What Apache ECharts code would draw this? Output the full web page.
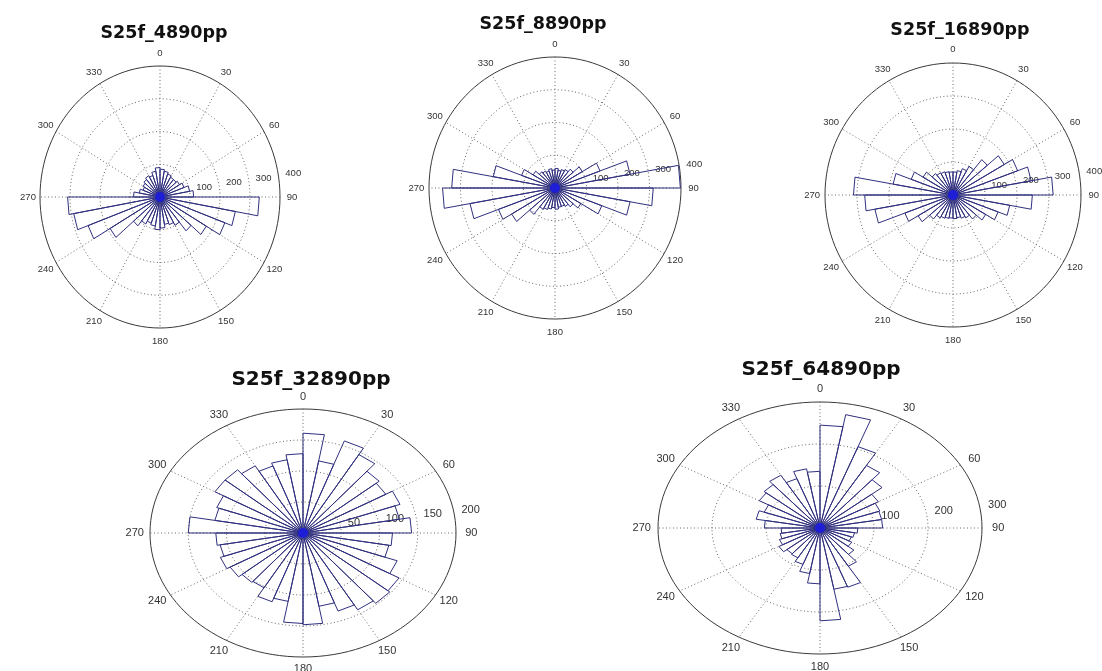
<!DOCTYPE html>
<html><head><meta charset="utf-8">
<script src="https://cdn.jsdelivr.net/npm/echarts@6/dist/echarts.min.js"></script>
<style>html,body{margin:0;padding:0;background:#fff}#c{width:1102px;height:671px}</style>
</head><body><div id="c"></div>
<script>
// ---- data ----
const titles = ['S25f_4890pp', 'S25f_8890pp', 'S25f_16890pp', 'S25f_32890pp', 'S25f_64890pp'];
const angleTicks = [0, 30, 60, 90, 120, 150, 180, 210, 240, 270, 300, 330];
const spokeAngles = [0, 30, 60, 90, 120, 150];
const binWidth = 10; // degrees, 36 bins, compass bins [10i, 10i+10]
const rTicks400 = [100, 200, 300, 400];
const rTicks200 = [50, 100, 150, 200];
const rTicks300 = [100, 200, 300];
const counts4890 = [85, 80, 75, 70, 70, 75, 85, 100, 112, 331, 255, 230, 178, 135, 100, 90, 85, 95,
  100, 90, 85, 95, 115, 192, 255, 292, 308, 88, 70, 60, 65, 70, 75, 70, 80, 90];
const counts8890 = [60, 55, 60, 65, 75, 100, 152, 242, 398, 312, 242, 158, 95, 75, 65, 60, 60, 65,
  60, 65, 70, 75, 105, 159, 191, 274, 357, 328, 199, 113, 80, 65, 60, 55, 60, 55];
const counts16890 = [70, 75, 85, 100, 140, 185, 215, 248, 313, 248, 180, 150, 118, 95, 80, 75, 70, 72,
  70, 72, 75, 80, 95, 126, 160, 248, 276, 311, 190, 139, 108, 85, 78, 75, 72, 70];
const counts32890 = [161, 118, 158, 146, 130, 125, 135, 128, 142, 117, 114, 131, 145, 148, 143, 134, 120, 148,
  146, 112, 118, 102, 104, 110, 115, 110, 114, 150, 117, 120, 133, 133, 125, 115, 120, 128];
const counts64890 = [245, 274, 206, 172, 150, 125, 118, 116, 116, 70, 65, 62, 68, 82, 105, 150, 148, 221,
  133, 110, 92, 82, 80, 88, 80, 75, 72, 103, 120, 110, 130, 135, 145, 125, 143, 135];

// ---- layout (pixels) ----
const panels = [
  { title: titles[0], counts: counts4890, rTicks: rTicks400, cx: 160, cy: 197, rx: 120, ry: 131, tx: 164, ty: 33, tf: 17.5, lf: 9.5 },
  { title: titles[1], counts: counts8890, rTicks: rTicks400, cx: 555, cy: 188, rx: 126, ry: 131, tx: 543, ty: 24, tf: 17.5, lf: 9.5 },
  { title: titles[2], counts: counts16890, rTicks: rTicks400, cx: 953, cy: 195, rx: 128, ry: 132, tx: 960, ty: 30, tf: 17.5, lf: 9.5 },
  { title: titles[3], counts: counts32890, rTicks: rTicks200, cx: 303, cy: 533, rx: 153, ry: 124, tx: 311, ty: 380, tf: 20, lf: 11 },
  { title: titles[4], counts: counts64890, rTicks: rTicks300, cx: 820, cy: 528, rx: 162, ry: 126, tx: 821, ty: 370, tf: 20, lf: 11 }
];

const D2R = Math.PI / 180;
const LABEL_FONT = 'Liberation Sans, Arial, sans-serif';
const ROSE_COLOR = '#30307f';
const GRID_COLOR = '#6a6a6a';

const grid = [], xAxis = [], yAxis = [], series = [], graphic = [];

panels.forEach((p, k) => {
  const R = p.rTicks[p.rTicks.length - 1];
  const rinc = p.rTicks[1] - p.rTicks[0];
  grid.push({ left: p.cx - p.rx, top: p.cy - p.ry, width: 2 * p.rx, height: 2 * p.ry, containLabel: false });
  xAxis.push({ gridIndex: k, type: 'value', min: -R, max: R, show: false });
  yAxis.push({ gridIndex: k, type: 'value', min: -R, max: R, show: false });

  // rings + radial labels
  series.push({
    type: 'custom', xAxisIndex: k, yAxisIndex: k, clip: false, silent: true, z: 1,
    data: p.rTicks.map(r => [r, 0]),
    renderItem(params, api) {
      const r = api.value(0);
      const c = api.coord([0, 0]);
      const ex = api.coord([r, 0])[0] - c[0];
      const ey = c[1] - api.coord([0, r])[1];
      const outer = r === R;
      const rl = r + rinc / 20;
      const lp = api.coord([rl * Math.sin(82 * D2R), rl * Math.cos(82 * D2R)]);
      return {
        type: 'group', children: [
          { type: 'ellipse', shape: { cx: c[0], cy: c[1], rx: ex, ry: ey },
            style: { fill: null, stroke: outer ? '#3a3a3a' : GRID_COLOR, lineWidth: 1, lineDash: outer ? null : [1, 2.5] } },
          { type: 'text', x: lp[0] + 5, y: lp[1],
            style: { text: String(r), fill: '#333', fontSize: p.lf, fontFamily: LABEL_FONT,
              align: 'left', verticalAlign: 'bottom', textAlign: 'left', textVerticalAlign: 'bottom' } }
        ]
      };
    }
  });
  // spokes
  series.push({
    type: 'custom', xAxisIndex: k, yAxisIndex: k, clip: false, silent: true, z: 1,
    data: spokeAngles.map(a => [a, 0]),
    renderItem(params, api) {
      const a = api.value(0) * D2R;
      const p1 = api.coord([R * Math.sin(a), R * Math.cos(a)]);
      const p2 = api.coord([-R * Math.sin(a), -R * Math.cos(a)]);
      return { type: 'line', shape: { x1: p1[0], y1: p1[1], x2: p2[0], y2: p2[1] },
        style: { stroke: GRID_COLOR, lineWidth: 1, lineDash: [1, 2.5] } };
    }
  });
  // angle labels
  series.push({
    type: 'custom', xAxisIndex: k, yAxisIndex: k, clip: false, silent: true, z: 1,
    data: angleTicks.map(a => [a, 0]),
    renderItem(params, api) {
      const deg = api.value(0);
      const a = deg * D2R;
      const q = api.coord([1.1 * R * Math.sin(a), 1.1 * R * Math.cos(a)]);
      return { type: 'text', x: q[0], y: q[1],
        style: { text: String(deg), fill: '#333', fontSize: p.lf, fontFamily: LABEL_FONT,
          align: 'center', verticalAlign: 'middle', textAlign: 'center', textVerticalAlign: 'middle' } };
    }
  });
  // rose histogram
  series.push({
    type: 'custom', xAxisIndex: k, yAxisIndex: k, clip: false, silent: true, z: 2,
    data: p.counts.map((v, i) => [i, v]),
    renderItem(params, api) {
      const i = api.value(0), r = api.value(1);
      const a1 = i * binWidth * D2R, a2 = (i + 1) * binWidth * D2R;
      const c = api.coord([0, 0]);
      const q1 = api.coord([r * Math.sin(a1), r * Math.cos(a1)]);
      const q2 = api.coord([r * Math.sin(a2), r * Math.cos(a2)]);
      return { type: 'polyline', shape: { points: [c, q1, q2, c] },
        style: { fill: null, stroke: ROSE_COLOR, lineWidth: 1 } };
    }
  });
  // dense centre
  series.push({
    type: 'scatter', xAxisIndex: k, yAxisIndex: k, silent: true, z: 3,
    data: [[0, 0]], symbol: 'circle', symbolSize: 10,
    itemStyle: { color: '#1a1aee' }
  });
  graphic.push({
    type: 'text', x: p.tx, y: p.ty, silent: true,
    style: { text: p.title, fill: '#111', fontSize: p.tf, fontWeight: 'bold', fontFamily: 'DejaVu Sans, Verdana, sans-serif',
      align: 'center', verticalAlign: 'middle', textAlign: 'center', textVerticalAlign: 'middle' }
  });
});

const chart = echarts.init(document.getElementById('c'), null, { renderer: 'canvas' });
chart.setOption({ animation: false, backgroundColor: '#fff', grid, xAxis, yAxis, series, graphic });
</script>
</body></html>
